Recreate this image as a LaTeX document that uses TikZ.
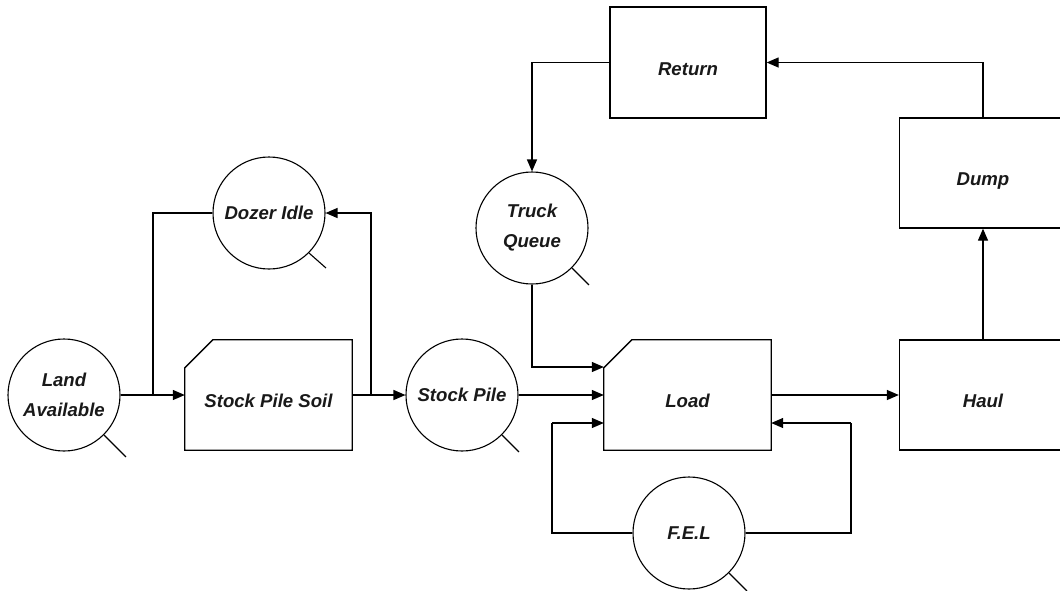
\documentclass[tikz,border=0pt]{standalone}
\usepackage{fontspec}
\setmainfont{Liberation Sans}
\usetikzlibrary{arrows.meta}
\begin{document}
\begin{tikzpicture}[x=1pt,y=-1pt,
  every node/.style={font=\fontsize{18.6}{30}\selectfont\bfseries\itshape, text=black!90},
  state/.style={circle, draw, line width=1.1pt, minimum size=112pt, inner sep=0pt, align=center},
  act/.style={rectangle, draw, line width=1.3pt, minimum width=167pt, minimum height=110pt, inner sep=0pt, text height=25pt, text depth=0pt},
  cutact/.style={rectangle, minimum width=167pt, minimum height=110pt, inner sep=0pt, text height=25pt, text depth=0pt},
  conn/.style={line width=1.3pt},
  arr/.style={conn, -{Triangle[length=12pt,width=10pt]}},
  tail/.style={line width=1.1pt}
]
\useasboundingbox (0,0) rectangle (1060,590);
\fill[white] (0,0) rectangle (1060,590);

% nodes
\node[state] (land) at (64,395) {Land\\Available};
\node[state] (dozer) at (269,213) {Dozer Idle};
\node[cutact] (sps) at (268.5,395) {Stock Pile Soil};
\node[state] (stock) at (462,395) {Stock Pile};
\node[state] (truck) at (532,228) {Truck\\Queue};
\node[cutact] (load) at (687.5,395) {Load};
\node[state] (fel) at (689,533) {F.E.L};
\node[act] (haul) at (983,395) {Haul};
\node[act] (dump) at (983,173) {Dump};
\node[act, minimum width=156pt, minimum height=111pt] (ret) at (688,62.5) {Return};

% cut-corner boxes
\foreach \n in {sps,load}{
  \draw[line width=1.3pt] ([yshift=-28pt]\n.north west) -- ([xshift=28pt]\n.north west) -- (\n.north east) -- (\n.south east) -- (\n.south west) -- cycle;
}

% tails of circles
\draw[tail] (land.-45) -- ++(22,22);
\draw[tail] (dozer.-45) -- ++(17,15);
\draw[tail] (stock.-45) -- ++(17,17);
\draw[tail] (truck.-45) -- ++(17,17);
\draw[tail] (fel.-45) -- ++(18,18);

% junction coordinates
\coordinate (j1) at (153,395);
\coordinate (j2) at (371,395);
\coordinate (fl) at (552,423);
\coordinate (fr) at (851,423);

% connectors
\draw[arr] (land.east) -- (sps.west);
\draw[conn] (j1) |- (dozer.west);
\draw[arr] (sps.east) -- (stock.west);
\draw[arr] (j2) |- (dozer.east);
\draw[arr] (stock.east) -- (load.west);
\draw[arr] (truck.south) |- ([yshift=28pt]load.west);
\draw[conn] (fel.west) -| (fl);
\draw[arr] (fl) -- ([yshift=-28pt]load.west);
\draw[conn] (fel.east) -| (fr);
\draw[arr] (fr) -- ([yshift=-28pt]load.east);
\draw[arr] (load.east) -- (haul.west);
\draw[arr] (haul.north) -- (dump.south);
\draw[arr] (dump.north) |- (ret.east);
\draw[arr] (ret.west) -| (truck.north);
\end{tikzpicture}
\end{document}
